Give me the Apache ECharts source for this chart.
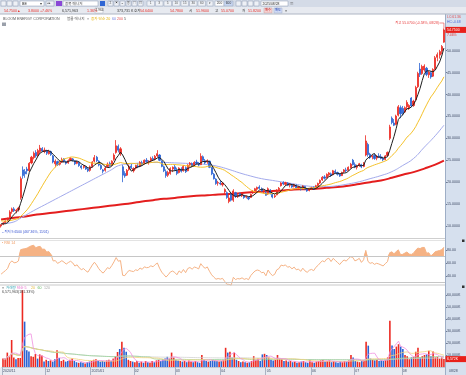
<!DOCTYPE html>
<html><head><meta charset="utf-8"><title>BE</title>
<script src="https://cdn.jsdelivr.net/npm/echarts@6.0.0/dist/echarts.min.js"></script>
<style>html,body{margin:0;padding:0;background:#fff;overflow:hidden}#chart{width:466px;height:375px}</style>
</head><body><div id="chart"></div>
<script>
// ---------- DATA ----------
const opens = [
10.0,10.4,10.8,11.4,12.0,13.3,13.9,13.4,13.7,16.5,22.8,22.4,23.0,22.6,24.4,25.6,26.8,26.1,27.0,27.7,
27.0,27.2,26.5,27.0,26.0,24.2,24.7,24.1,24.6,25.3,24.7,24.4,25.0,25.3,24.9,24.3,24.5,23.7,23.4,23.5,23.0,
22.7,23.6,24.8,25.7,24.8,23.8,22.8,22.7,23.6,24.3,23.9,25.2,26.8,28.2,26.5,23.5,22.0,21.6,22.9,23.7,
22.6,23.2,23.7,23.6,24.4,24.2,25.0,24.5,24.9,25.4,25.3,26.0,26.2,24.8,23.5,22.4,21.6,22.0,23.0,
23.5,22.6,22.2,23.0,22.6,23.3,22.6,24.0,24.2,23.8,24.6,24.2,24.0,25.8,24.9,24.6,24.8,23.3,21.8,20.7,19.8,
19.8,19.4,17.8,17.6,15.6,17.2,15.9,17.6,16.7,17.4,16.9,17.0,16.6,16.5,16.5,17.6,17.9,18.4,18.9,18.5,17.8,
17.6,17.3,18.2,17.2,16.7,17.1,18.3,19.2,19.9,19.5,19.8,19.3,19.3,19.0,19.3,18.6,18.8,18.6,19.0,18.4,18.1,
18.5,18.7,18.5,19.2,19.8,20.5,21.2,21.0,21.7,21.9,21.7,22.5,22.2,21.8,21.5,22.4,22.8,22.7,23.3,25.0,
24.0,23.4,23.8,24.0,23.6,26.2,28.6,26.4,25.8,26.1,25.5,26.0,25.8,25.4,25.2,26.1,30.0,34.6,33.5,33.2,35.3,37.0,
36.8,36.0,37.2,36.9,39.2,37.5,38.8,41.8,45.8,44.8,45.6,46.0,44.5,45.0,44.2,45.9,48.5,49.0,49.9,51.96];
const highs = [
10.4,10.9,11.3,11.9,13.6,14.2,14.3,13.9,14.4,21.3,23.6,23.0,23.5,24.6,26.0,27.0,27.3,27.6,28.5,28.0,
27.9,27.4,27.4,27.2,26.2,25.2,24.9,24.8,25.6,25.5,24.9,25.2,25.7,25.5,25.0,24.9,24.7,23.9,23.9,23.7,23.2,
23.8,24.8,26.2,26.0,25.0,24.1,23.0,23.6,24.5,24.7,25.0,26.6,29.6,28.6,28.0,23.9,22.5,23.0,24.0,24.2,
23.4,24.0,24.3,24.8,24.9,25.2,25.5,25.0,25.8,25.9,26.2,27.3,26.4,25.0,23.8,22.9,22.6,23.4,23.6,
24.0,23.3,23.4,23.4,23.9,23.6,24.1,24.6,24.5,24.8,25.1,24.6,26.6,26.1,25.3,25.2,24.9,23.5,22.1,20.9,20.3,
20.4,20.0,18.6,17.9,17.2,17.5,18.4,17.8,17.3,17.6,17.4,17.1,16.9,16.7,17.4,18.2,18.7,19.0,19.3,18.8,18.3,
18.1,18.8,18.4,17.4,17.2,18.4,18.9,20.0,20.2,20.1,20.0,19.7,19.6,19.6,19.5,19.1,19.0,19.3,19.1,18.6,18.7,
18.9,19.0,19.4,19.9,20.6,21.4,21.6,22.0,22.3,22.2,22.8,22.9,22.4,22.1,22.4,23.0,23.3,23.6,24.4,25.3,
24.5,24.0,24.4,24.2,24.6,30.7,29.0,26.7,26.3,26.5,26.2,26.6,26.4,25.8,26.2,27.0,33.1,35.0,34.4,35.4,37.6,37.5,
37.4,37.3,38.7,37.8,39.4,38.8,42.0,45.2,47.2,46.8,46.9,46.3,45.4,45.3,46.0,48.8,49.6,50.2,51.3,55.07];
const lows = [
9.65,10.2,10.6,11.0,11.8,12.8,13.2,12.9,13.3,16.0,20.8,21.0,21.8,22.4,24.1,25.2,25.6,25.8,26.6,26.9,
26.6,26.2,26.3,26.0,24.3,23.4,23.7,23.8,24.4,24.5,24.0,24.2,24.8,24.7,23.9,24.1,23.5,22.9,23.1,22.8,22.3,
22.4,23.3,24.5,24.6,23.6,22.8,22.0,22.4,23.3,23.5,23.7,24.9,26.5,26.8,26.0,20.0,21.0,21.4,22.6,23.0,
22.2,22.9,23.2,23.4,23.7,24.0,24.4,24.0,24.6,24.9,25.0,25.7,24.8,23.4,22.3,21.0,21.2,21.7,22.3,
22.6,21.6,22.0,22.2,22.4,22.1,22.5,23.5,23.4,23.6,24.0,23.6,23.9,24.8,24.1,24.2,23.2,21.6,20.6,19.4,19.2,
19.3,19.0,17.2,16.2,15.2,15.6,15.5,16.4,16.4,16.7,16.6,16.2,16.3,15.9,16.4,17.3,17.7,18.0,18.4,17.8,17.4,
16.9,17.1,17.2,16.3,16.4,17.0,17.9,19.0,19.3,19.2,19.1,18.8,18.7,18.8,18.6,18.3,18.1,18.4,18.2,17.8,17.9,
18.2,18.3,18.4,19.0,19.6,20.3,20.6,20.8,21.3,21.2,21.6,21.9,21.5,21.2,21.4,22.1,22.3,22.5,23.1,23.8,
23.2,22.9,23.5,23.2,23.4,25.9,25.8,25.3,25.2,25.1,25.0,25.5,25.2,24.8,25.0,25.9,29.6,33.2,32.8,33.0,35.0,34.6,
35.2,35.8,36.6,36.5,37.1,37.2,38.6,41.5,44.0,44.5,45.2,44.2,43.8,43.6,44.0,45.6,47.6,48.2,49.2,51.82];
const closes = [
10.3,10.7,11.1,11.6,13.2,13.9,13.5,13.6,14.1,20.8,21.5,21.9,22.6,24.3,25.7,26.6,26.0,27.2,27.8,27.1,
27.3,26.6,27.0,26.3,24.6,24.8,24.0,24.5,25.2,24.8,24.3,24.9,25.4,25.0,24.2,24.6,23.8,23.3,23.6,23.0,22.6,
23.5,24.6,25.6,24.9,23.9,23.1,22.5,23.2,24.1,23.8,24.8,26.2,28.3,27.3,27.6,21.6,21.4,22.7,23.6,23.3,
23.1,23.8,23.5,24.5,24.0,25.0,24.7,24.8,25.4,25.1,25.9,26.5,25.0,23.6,22.6,21.5,22.2,23.1,23.4,
22.9,22.0,23.2,22.5,23.6,22.4,23.9,24.3,23.7,24.5,24.3,23.9,25.9,25.0,24.4,24.9,23.4,21.9,20.8,19.7,19.9,
19.6,19.8,18.3,16.5,16.4,15.9,18.0,16.8,17.1,16.9,17.2,16.5,16.7,16.2,17.2,17.9,18.5,18.8,18.6,18.0,18.1,
17.0,18.5,17.4,16.6,16.9,18.2,18.6,19.8,19.6,19.9,19.3,19.5,18.9,19.4,18.7,18.9,18.3,19.1,18.4,18.0,18.5,
18.7,18.4,19.2,19.7,20.4,21.1,20.9,21.8,22.1,21.5,22.6,22.2,21.8,21.4,22.2,22.8,22.6,23.4,24.1,24.0,
23.4,23.7,24.2,23.5,24.3,29.4,26.3,25.6,26.0,25.4,25.9,25.7,25.4,25.1,26.0,26.8,32.6,33.6,33.0,35.1,37.2,35.6,
35.8,37.0,38.2,37.5,37.4,38.5,41.6,44.8,44.6,46.4,46.5,44.6,45.1,44.0,45.7,48.4,49.1,49.8,50.95,54.75];
// volume in thousands of shares
const volumes = [
7000,6500,12000,9000,22500,8000,6500,7500,7500,64000,37800,14000,13000,9000,8500,10800,7000,10500,9500,4500,
6000,5000,5500,4500,6500,14000,7500,5000,6000,4500,5000,6000,7000,5000,4000,3500,4000,3500,3000,4000,4500,
5000,6000,6500,5000,4500,5000,4500,5500,6000,5000,7000,9000,12500,15000,21000,16000,12700,6000,5000,4500,
4000,5000,3500,4500,3500,5000,4000,3500,5000,4000,5500,6000,5000,6500,7000,8500,7000,12000,8000,
6000,5500,5000,4500,5000,4000,5500,4500,4000,5000,4000,3500,10000,6000,5000,4500,5000,6000,5500,5000,4500,
5000,6000,16000,12000,12800,8000,12000,6000,5000,4000,4500,4000,3500,4000,5000,9000,6000,7000,5000,10500,11000,
10000,8000,6000,5500,6000,10000,7000,6500,5000,5500,4500,5000,4000,4500,3500,4000,4500,5000,4000,3500,6000,
4000,3500,4500,5000,5500,6000,4500,5000,5500,4000,5000,4000,3500,4500,4000,5000,4500,5500,10000,8000,
5000,4500,4000,5000,5500,21000,17800,7000,6000,5500,6000,5000,5500,5000,6000,8000,38600,18000,15000,17000,19000,17000,
15000,10000,9000,6500,8000,8500,12700,16000,8000,9000,10000,10500,13500,9000,12900,8000,8500,7000,8000,6571.963];
// closes of the 19 sessions before the first shown day (for the start of MA20 / RSI)
const priorCloses = [11.9,11.2,11.8,11.1,11.7,10.9,11.5,10.8,11.6,12.3,11.4,12.0,11.1,10.7,11.3,10.6,11.0,10.4,10.1];
// 60-day and 200-day averages every 5 sessions
const sampleIdx = [0,5,10,15,20,25,30,35,40,45,50,55,60,65,70,75,80,85,90,95,100,105,110,115,120,125,130,135,140,145,150,155,160,165,170,175,180,185,190,195,200,204];
const ma60Samples = [10.5,10.8,12.1,13.5,14.8,16.1,17.4,18.7,20.0,21.3,22.6,23.9,24.2,24.4,24.5,24.5,24.4,24.3,24.2,24.0,23.6,22.9,22.1,21.4,20.8,20.4,20.0,19.6,19.2,19.0,19.0,19.2,19.6,20.1,20.8,21.5,22.4,23.8,25.4,28.0,30.6,33.0];
const ma200Samples = [11.5,11.8,12.1,12.5,12.8,13.1,13.4,13.7,14.0,14.3,14.6,14.9,15.2,15.6,15.9,16.2,16.4,16.7,16.9,17.0,17.2,17.3,17.5,17.7,17.8,18.0,18.1,18.3,18.4,18.5,18.7,18.9,19.2,19.6,20.0,20.4,21.0,21.7,22.3,23.1,24.0,24.9];
const monthStarts = [0,20,41,61,80,101,122,143,163,185];
const monthLabels = ['2024/11','12','2025/01','02','03','04','05','06','07','08'];
const firstDay = '11/01', lastDay = '08/28', lastDate = '2025/08/28';

// ---------- DERIVED ----------
const UP = '#ec2a22', DOWN = '#2b63d3';
const FONT = '"Liberation Sans","Noto Sans CJK KR",sans-serif';
const N = closes.length;
const cats = closes.map((_, i) => String(i));
function sma(arr, n, prior) {
  const all = prior.concat(arr), off = prior.length;
  return arr.map((_, i) => {
    const j = i + off, s = Math.max(0, j - n + 1);
    let sum = 0; for (let k = s; k <= j; k++) sum += all[k];
    return +(sum / (j - s + 1)).toFixed(3);
  });
}
function sampled(idx, vals) { const d = new Array(N).fill(null); idx.forEach((ix, k) => { d[ix] = vals[k]; }); return d; }
const ma5 = sma(closes, 5, priorCloses);
const ma20 = sma(closes, 20, priorCloses);
const ma60 = sampled(sampleIdx, ma60Samples);
const ma200 = sampled(sampleIdx, ma200Samples);
const vma5 = sma(volumes, 5, []), vma20 = sma(volumes, 20, []), vma60 = sma(volumes, 60, []), vma120 = sma(volumes, 120, []);
// RSI 14 (Wilder)
const allC = priorCloses.concat(closes);
let ag = 0, al = 0; const rsiAll = [];
for (let j = 1; j < allC.length; j++) {
  const ch = allC[j] - allC[j - 1], g = Math.max(ch, 0), l = Math.max(-ch, 0);
  if (j <= 14) { ag += g / 14; al += l / 14; } else { ag = (ag * 13 + g) / 14; al = (al * 13 + l) / 14; }
  rsiAll[j] = j >= 14 ? 100 - 100 / (1 + ag / (al || 1e-9)) : null;
}
const rsi = closes.map((_, i) => +rsiAll[i + priorCloses.length].toFixed(2));

const lastC = closes[N - 1], prevC = closes[N - 2];
const chg = lastC - prevC, pct = chg / prevC * 100;
let maxH = -1, maxI = 0, minL = 1e9, minI = 0;
highs.forEach((h, i) => { if (h > maxH) { maxH = h; maxI = i; } });
lows.forEach((l, i) => { if (l < minL) { minL = l; minI = i; } });

const chart = echarts.init(document.getElementById('chart'), null, { renderer: 'canvas' });
const axisLabelBase = { fontSize: 3.6, color: '#3f4b66', fontFamily: FONT, margin: 2 };
const xAx = [0, 1, 2].map(g => ({
  type: 'category', gridIndex: g, data: cats, boundaryGap: true,
  axisLine: { show: g === 2, lineStyle: { color: '#c3c9d3', width: 1 } },
  axisTick: { show: g === 2, interval: (i) => monthStarts.includes(i), length: 8, lineStyle: { color: '#aab3c3' } },
  axisLabel: { show: g === 2, interval: (i) => monthStarts.includes(i), formatter: (v, i) => monthLabels[monthStarts.indexOf(i)] || '',
    fontSize: 3.5, color: '#3f4b66', fontFamily: FONT, align: 'left', margin: 2.5 },
  splitLine: { show: false }
}));
const yAx = [
  { gridIndex: 0, type: 'value', position: 'right', min: 5, max: 60, interval: 5, scale: false,
    axisLine: { show: false }, splitLine: { show: false },
    axisTick: { show: true, length: 2, lineStyle: { color: '#6f7b93' }, customValues: [10, 15, 20, 25, 30, 35, 40, 45, 50] },
    axisLabel: Object.assign({}, axisLabelBase, { formatter: v => (v >= 10 && v <= 50) ? v.toFixed(4) : '' }) },
  { gridIndex: 1, type: 'value', position: 'right', min: 20, max: 100, interval: 20,
    axisLine: { show: false }, splitLine: { show: false },
    axisTick: { show: true, length: 2, lineStyle: { color: '#6f7b93' }, customValues: [40, 60, 80] },
    axisLabel: Object.assign({}, axisLabelBase, { formatter: v => (v >= 40 && v <= 80) ? v.toFixed(2) : '' }) },
  { gridIndex: 2, type: 'value', position: 'right', min: 0, max: 67500, interval: 10000,
    axisLine: { show: false }, splitLine: { show: false },
    axisTick: { show: true, length: 2, lineStyle: { color: '#6f7b93' }, customValues: [10000, 20000, 30000, 40000, 50000, 60000] },
    axisLabel: Object.assign({}, axisLabelBase, { formatter: v => (v > 0 && v % 10000 === 0) ? v.toLocaleString('en-US') + 'K' : '' }) }
];
const lineS = (data, color, width, xi, yi, extra) => Object.assign({ type: 'line', xAxisIndex: xi, yAxisIndex: yi, data, symbol: 'none', silent: true,
  lineStyle: { color, width }, emphasis: { disabled: true } }, extra || {});

const option = {
  animation: false, backgroundColor: '#ffffff',
  grid: [
    { left: 0, width: 445, top: 6.9, height: 241 },
    { left: 0, width: 445, top: 237, height: 52 },
    { left: 0, width: 445, top: 286, height: 81 }
  ],
  xAxis: xAx, yAxis: yAx,
  series: [
    lineS(ma200, '#e41e1e', 2, 0, 0, { connectNulls: true, smooth: true, z: 2 }),
    lineS(ma60, '#a3aaec', 1, 0, 0, { connectNulls: true, smooth: true, z: 2 }),
    { type: 'candlestick', xAxisIndex: 0, yAxisIndex: 0, silent: true, z: 3, barWidth: 1.6,
      data: opens.map((o, i) => [o, closes[i], lows[i], highs[i]]),
      itemStyle: { color: UP, color0: DOWN, borderColor: UP, borderColor0: DOWN, borderWidth: 0.8 } },
    lineS(ma20, '#f5c22a', 1, 0, 0, { z: 4 }),
    lineS(ma5, '#1e1e1e', 1, 0, 0, { z: 5 }),
    // RSI fill above 70
    lineS(rsi.map(() => 70), 'rgba(0,0,0,0)', 0, 1, 1, { stack: 'hi', z: 2 }),
    lineS(rsi.map(v => Math.max(v, 70) - 70), 'rgba(0,0,0,0)', 0, 1, 1, { stack: 'hi', z: 2, areaStyle: { color: '#f3a56e', opacity: 0.85 } }),
    lineS(rsi, '#f6b385', 1, 1, 1, { z: 3,
      markLine: { silent: true, symbol: 'none', label: { show: false }, lineStyle: { color: '#c6c6c6', type: 'solid', width: 1 },
        data: [{ yAxis: 70 }, { yAxis: 30 }] } }),
    // volume
    { type: 'bar', xAxisIndex: 2, yAxisIndex: 2, silent: true, barWidth: 1.6, z: 2,
      data: volumes.map((v, i) => ({ value: v, itemStyle: { color: closes[i] >= opens[i] ? UP : DOWN } })) },
    lineS(vma120, '#d2d2d2', 0.8, 2, 2, { z: 3 }),
    lineS(vma60, '#9ad49a', 0.8, 2, 2, { z: 3 }),
    lineS(vma20, '#f2d27e', 0.8, 2, 2, { z: 3 }),
    lineS(vma5, '#f08fe0', 0.8, 2, 2, { z: 3 })
  ]
};
chart.setOption(option);

// ---------- decorations (texts, panel backgrounds) ----------
const G = [];
function rect(x, y, w, h, fill, stroke, z) { G.push({ type: 'rect', silent: true, z: z === undefined ? 50 : z, shape: { x, y, width: w, height: h }, style: { fill, stroke: stroke || null, lineWidth: stroke ? 0.5 : 0 } }); }
function text(x, y, t, fill, size, align, z) { G.push({ type: 'text', silent: true, z: z === undefined ? 60 : z, x, y, style: { text: t, fill, font: (size || 3.6) + 'px ' + FONT, textAlign: align || 'left', textVerticalAlign: 'middle', verticalAlign: 'middle' } }); }
function line(x1, y1, x2, y2, stroke, w, z) { G.push({ type: 'line', silent: true, z: z === undefined ? 55 : z, shape: { x1, y1, x2, y2 }, style: { stroke, lineWidth: w || 1 } }); }

// right axis panel & date row
rect(445, 14, 21, 361, '#d6e0ee', null, -1);
line(445.5, 14, 445.5, 375, '#9eaec6', 1, 1);
rect(0, 367.5, 445, 7.5, '#e8ebf1', null, -1);
// panel separators
line(0, 238.5, 445, 238.5, '#cfcfcf', 1, 6);
line(0, 240.5, 445, 240.5, '#e3e3e3', 1, 6);
line(0, 285, 445, 285, '#c9c9c9', 1, 6);
// header
rect(0, 0, 466, 7, '#d4dbe7');
rect(0, 7, 466, 7, '#e7eaf0');
line(0, 14, 466, 14, '#aeb6c4', 1);
[1, 7, 13].forEach(x => rect(x, 1, 5, 5, '#eef1f6', '#8f9ab0'));
rect(20, 1, 24, 5, '#ffffff', '#8f9ab0'); text(22, 3.6, 'BE', '#222'); text(40, 3.6, '▾', '#444');
rect(46, 1, 8, 5, '#eef1f6', '#8f9ab0'); text(47, 3.6, '◂▸', '#444', 3);
rect(56, 1, 6, 5, '#8a48d6');
rect(63, 1, 35, 5, '#ffffff', '#8f9ab0'); text(65, 3.6, '종목 매니저', '#444');
rect(100, 1, 5, 5, '#2f66d4');
['Σ', '▣', '≡', '봉', '▤', '▥'].forEach((g, k) => { rect(108 + k * 6, 1, 5, 5, '#eef1f6', '#8f9ab0'); text(110.5 + k * 6, 3.6, g, '#444', 3, 'center'); });
['1', '3', '5', '10', '15', '30', '60'].forEach((g, k) => { rect(147 + k * 8.5, 1, 7.5, 5, '#eef1f6', '#9aa4b8'); text(150.7 + k * 8.5, 3.6, g, '#555', 3.2, 'center'); });
rect(207, 1, 6, 5, '#eef1f6', '#9aa4b8'); text(210, 3.6, '▾', '#444', 3, 'center');
rect(215, 1, 9, 5, '#ffffff', '#9aa4b8'); text(219.5, 3.6, '200', '#333', 3.2, 'center');
rect(224, 1, 9, 5, '#c7d6f2', '#9aa4b8'); text(228.5, 3.6, '600', '#333', 3.2, 'center');
[236, 242, 248, 254].forEach(x => rect(x, 1, 5, 5, '#eef1f6', '#8f9ab0'));
rect(261, 1, 27, 5, '#ffffff', '#8f9ab0'); text(262.5, 3.6, lastDate, '#222', 3.4); text(290, 3.6, '▦', '#555', 3.4);
// price row
text(4, 10.5, lastC.toFixed(4) + '▲', '#e8302a');
text(28, 10.5, chg.toFixed(4), '#e8302a');
text(40, 10.5, '+' + pct.toFixed(2) + '%', '#e8302a');
text(62, 10.5, Math.round(volumes[N - 1] * 1000).toLocaleString('en-US'), '#333');
text(87, 10.5, '1.36%', '#e8302a');
rect(95, 8, 8, 5, '#ffffff', '#aab2c2'); text(95.5, 10.5, '2,964', '#333', 3.2);
text(117, 10.5, '373,731 K', '#333');
text(134, 10.5, '호가', '#333');
text(140, 10.5, '54.6400', '#e8302a');
text(170, 10.5, '54.7800', '#e8302a');
text(189, 10.5, '시', '#333'); text(196, 10.5, opens[N - 1].toFixed(4), '#e8302a');
text(215, 10.5, '고', '#333'); text(221, 10.5, highs[N - 1].toFixed(4), '#e8302a');
text(242, 10.5, '저', '#333'); text(248, 10.5, lows[N - 1].toFixed(4), '#e8302a');
rect(264, 8, 8, 5, '#f6d0d0', '#c9a0a0'); text(268, 10.5, '매수', '#c02020', 3.2, 'center');
rect(274, 8, 8, 5, '#cfdaf5', '#a0acc9'); text(278, 10.5, '매도', '#2040b0', 3.2, 'center');
text(285, 10.5, '≡', '#444');
// chart titles
text(3, 19, 'BLOOM ENERGY CORPORATION', '#555');
text(67, 19, '블룸 에너지', '#555');
text(87, 19, '≡', '#888');
text(91, 19, '종가 단순 20', '#e3b000');
text(112, 19, '60', '#7180e0');
text(117, 19, '200', '#e85050');
text(124, 19, '5', '#555');
rect(2, 22.5, 4, 3.5, '#9aa0aa', null, 50);
text(2, 242.8, '▪ RSI 14', '#f09a60');
text(2, 287.5, '≡', '#666');
text(6, 287.5, '거래량', '#34a6b6');
text(17, 287.5, '단순 5', '#e45cc4');
text(31, 287.5, '20', '#e3b93a');
text(37.5, 287.5, '60', '#5fb85f');
text(44, 287.5, '120', '#a8a8a8');
text(2, 292, Math.round(volumes[N - 1] * 1000).toLocaleString('en-US') + '(181.33%)', '#444');
// right panel texts
text(447, 17, 'LC:61.36', '#e04a4a', 3.4);
text(447, 22, 'HC:-0.68', '#4a68d8', 3.4);
text(449, 371, lastDay, '#3f4b66', 3.5);
rect(462, 239.5, 2.5, 2.5, '#333', null, 60);
rect(462, 285.5, 2.5, 2.5, '#333', null, 60);

const pyC = chart.convertToPixel({ yAxisIndex: 0 }, lastC);
rect(445.5, pyC - 3, 20.5, 6, '#e8201a', null, 58);
text(447, pyC, lastC.toFixed(4), '#ffffff', 3.5);
text(447, pyC + 5.5, pct.toFixed(2) + '%', '#e8302a', 3.4);
const pyV = chart.convertToPixel({ yAxisIndex: 2 }, volumes[N - 1]);
rect(445.5, pyV - 3, 20.5, 6, '#e8201a', null, 58);
text(447, pyV, Math.round(volumes[N - 1]).toLocaleString('en-US') + 'K', '#ffffff', 3.5);

// highest / lowest annotations
const pH = chart.convertToPixel({ xAxisIndex: 0, yAxisIndex: 0 }, [maxI, maxH]);
const hiTxt = '최고 ' + maxH.toFixed(4) + ' (' + ((lastC / maxH - 1) * 100).toFixed(2) + '%, ' + lastDay + ')';
text(pH[0] - 5, pH[1] - 5.5, hiTxt, '#e84040', 3.4, 'right');
line(pH[0] - 4.5, pH[1] - 5.5, pH[0], pH[1] - 5.5, '#e84040', 0.6);
line(pH[0], pH[1] - 5.5, pH[0], pH[1], '#e84040', 0.6);
const pL = chart.convertToPixel({ xAxisIndex: 0, yAxisIndex: 0 }, [minI, minL]);
const loTxt = '←최저 ' + minL.toFixed(4) + ' (' + ((lastC / minL - 1) * 100).toFixed(2) + '%, ' + firstDay + ')';
text(Math.max(1, pL[0] - 1), pL[1] + 4.5, loTxt, '#3552d0', 3.4);

chart.setOption({ graphic: { elements: G } });
</script></body></html>
